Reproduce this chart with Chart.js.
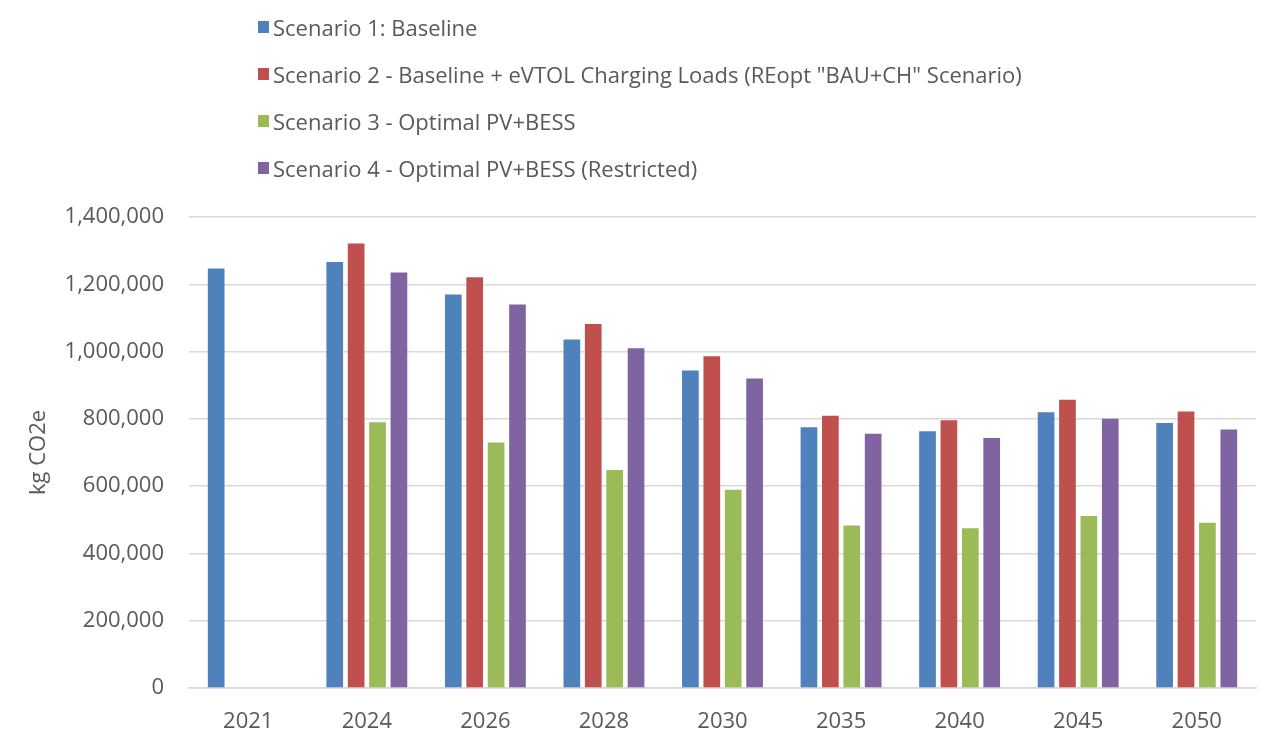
<!DOCTYPE html>
<html>
<head>
<meta charset="utf-8">
<script src="https://cdn.jsdelivr.net/npm/chart.js@4/dist/chart.umd.min.js"></script>
<style>
  html, body { margin: 0; padding: 0; background: #ffffff; }
  #wrap { position: relative; width: 1271px; height: 742px; }
  #legend { position: absolute; left: 258px; top: 12px; font-family: "Open Sans", sans-serif; font-size: 22px; color: #595959; }
  #legend .item { height: 47px; display: flex; align-items: flex-start; line-height: 30px; white-space: nowrap; }
  #legend .box { width: 11px; height: 12px; margin: 9px 4px 0 0; }
</style>
</head>
<body>
<div id="wrap">
  <canvas id="chart" width="1271" height="742"></canvas>
  <div id="legend"></div>
</div>
<script>
const years = ["2021", "2024", "2026", "2028", "2030", "2035", "2040", "2045", "2050"];
const seriesNames = [
  "Scenario 1: Baseline",
  'Scenario 2 - Baseline + eVTOL Charging Loads (REopt "BAU+CH" Scenario)',
  "Scenario 3 - Optimal PV+BESS",
  "Scenario 4 - Optimal PV+BESS (Restricted)",
];
const baseline = [1247000, 1266000, 1170000, 1036000, 944000, 775000, 763000, 820000, 788000];
const baselineCharging = [null, 1321000, 1221000, 1082000, 986000, 809000, 796000, 857000, 822000];
const optimalPvBess = [null, 790000, 730000, 648000, 589000, 483000, 475000, 511000, 491000];
const optimalRestricted = [null, 1235000, 1140000, 1010000, 920000, 756000, 743000, 800000, 768000];
const palette = ["#4f81bd", "#c0504d", "#9bbb59", "#8064a2"];

const textColor = "#595959";
const gridColor = "#d9d9d9";
const fontFamily = "Open Sans";

function buildChart() {
  return new Chart(document.querySelector("#chart"), {
    type: "bar",
    data: {
      labels: years,
      datasets: [baseline, baselineCharging, optimalPvBess, optimalRestricted].map((data, index) => ({
        label: seriesNames[index],
        data,
        backgroundColor: palette[index],
        categoryPercentage: 0.722,
        barPercentage: 0.78,
      })),
    },
    options: {
      responsive: false,
      animation: false,
      layout: { padding: { top: 217, right: 15, bottom: 0, left: 20 } },
      plugins: { legend: { display: false }, tooltip: { enabled: false } },
      scales: {
        x: {
          grid: { display: false },
          border: { color: gridColor, width: 1.5 },
          ticks: { color: textColor, font: { family: fontFamily, size: 22 }, padding: 13 },
          afterFit: (scale) => { scale.height = 54; },
        },
        y: {
          min: 0,
          max: 1400000,
          ticks: {
            stepSize: 200000,
            color: textColor,
            padding: 25,
            font: { family: fontFamily, size: 22 },
            callback: (value) => value.toLocaleString("en-US"),
          },
          grid: { color: gridColor, lineWidth: 1.5, drawTicks: false },
          border: { display: false },
          title: { display: true, text: "kg CO2e", color: textColor, font: { family: fontFamily, size: 22 }, padding: 6 },
          afterFit: (scale) => { scale.width = 169; },
        },
      },
    },
  });
}

function renderLegend(chart) {
  const legend = document.querySelector("#legend");
  legend.innerHTML = "";
  chart.data.datasets.forEach((dataset) => {
    const row = document.createElement("div");
    row.className = "item";
    row.innerHTML = `<span class="box" style="background:${dataset.backgroundColor}"></span><span></span>`;
    row.lastChild.textContent = dataset.label;
    legend.appendChild(row);
  });
}

document.fonts.load(`22px "${fontFamily}"`).then(() => {
  const chart = buildChart();
  renderLegend(chart);
});
</script>
</body>
</html>
